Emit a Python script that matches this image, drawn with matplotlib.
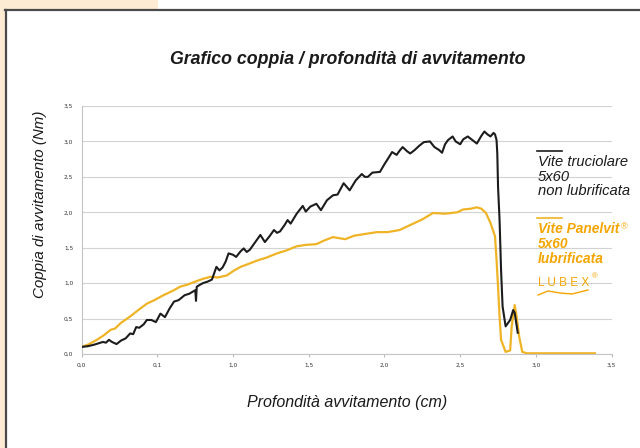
import matplotlib
matplotlib.use('Agg')
from matplotlib import pyplot as plt
from matplotlib import font_manager
from matplotlib.patches import Rectangle
from matplotlib.lines import Line2D

# dati
nero_x = [0.00, 0.04, 0.08, 0.11, 0.14, 0.16, 0.18, 0.20, 0.23, 0.26, 0.29, 0.32, 0.34, 0.36,
          0.38, 0.41, 0.43, 0.46, 0.49, 0.52, 0.55, 0.58, 0.61, 0.64, 0.68, 0.71, 0.75, 0.755,
          0.76, 0.80, 0.83, 0.86, 0.89, 0.91, 0.93, 0.95, 0.97, 1.00, 1.02, 1.05, 1.07, 1.09,
          1.11, 1.14, 1.18, 1.21, 1.24, 1.27, 1.29, 1.31, 1.34, 1.36, 1.38, 1.42, 1.46, 1.48,
          1.51, 1.55, 1.57, 1.58, 1.62, 1.66, 1.69, 1.73, 1.75, 1.77, 1.81, 1.85, 1.87, 1.89,
          1.92, 1.97, 2.00, 2.03, 2.05, 2.08, 2.10, 2.12, 2.15, 2.17, 2.20, 2.23, 2.26, 2.30,
          2.33, 2.36, 2.38, 2.40, 2.42, 2.45, 2.47, 2.50, 2.52, 2.55, 2.58, 2.61, 2.64, 2.66,
          2.68, 2.70, 2.72, 2.73, 2.74, 2.745, 2.75, 2.76, 2.77, 2.78, 2.80, 2.83, 2.85, 2.86,
          2.88]
nero_y = [0.10, 0.11, 0.13, 0.15, 0.17, 0.16, 0.20, 0.17, 0.14, 0.19, 0.22, 0.29, 0.28, 0.38,
          0.37, 0.42, 0.48, 0.48, 0.45, 0.57, 0.52, 0.64, 0.74, 0.76, 0.83, 0.85, 0.90, 0.75,
          0.95, 1.00, 1.02, 1.05, 1.23, 1.18, 1.22, 1.30, 1.42, 1.40, 1.37, 1.45, 1.49, 1.44,
          1.47, 1.56, 1.68, 1.58, 1.66, 1.75, 1.71, 1.73, 1.82, 1.89, 1.84, 1.98, 2.09, 2.01,
          2.08, 2.12, 2.06, 2.03, 2.17, 2.24, 2.25, 2.41, 2.36, 2.31, 2.45, 2.54, 2.50, 2.50,
          2.56, 2.57, 2.68, 2.78, 2.85, 2.81, 2.87, 2.92, 2.86, 2.83, 2.88, 2.94, 2.99, 3.00,
          2.92, 2.88, 2.84, 2.96, 3.02, 3.07, 3.00, 2.96, 3.03, 3.07, 3.02, 2.97, 3.08, 3.14,
          3.10, 3.07, 3.12, 3.10, 3.02, 2.83, 2.36, 1.89, 1.18, 0.67, 0.39, 0.48, 0.62, 0.58,
          0.30]

giallo_x = [0.00, 0.05, 0.10, 0.15, 0.19, 0.22, 0.26, 0.32, 0.38, 0.43, 0.48, 0.54, 0.60, 0.65,
            0.70, 0.76, 0.80, 0.85, 0.90, 0.96, 1.00, 1.05, 1.10, 1.16, 1.22, 1.29, 1.35, 1.42,
            1.48, 1.55, 1.60, 1.66, 1.74, 1.80, 1.89, 1.95, 2.02, 2.10, 2.15, 2.19, 2.25, 2.32,
            2.40, 2.48, 2.52, 2.57, 2.61, 2.64, 2.67, 2.70, 2.73, 2.74, 2.75, 2.76, 2.77, 2.80,
            2.83, 2.84, 2.86, 2.87, 2.89, 2.91, 2.94, 3.39]
giallo_y = [0.10, 0.14, 0.20, 0.27, 0.34, 0.36, 0.44, 0.53, 0.63, 0.71, 0.76, 0.83, 0.89, 0.95,
            0.98, 1.03, 1.06, 1.09, 1.08, 1.11, 1.17, 1.23, 1.27, 1.32, 1.36, 1.42, 1.46, 1.52,
            1.54, 1.55, 1.60, 1.65, 1.62, 1.67, 1.70, 1.72, 1.72, 1.75, 1.80, 1.84, 1.90, 1.99,
            1.98, 2.00, 2.04, 2.05, 2.07, 2.05, 1.99, 1.85, 1.66, 1.33, 0.95, 0.53, 0.20, 0.03,
            0.05, 0.39, 0.69, 0.57, 0.24, 0.03, 0.01, 0.01]

x_ticks = [0.0, 0.5, 1.0, 1.5, 2.0, 2.5, 3.0, 3.5]
x_labels = ['0,0', '0,1', '1,0', '1,5', '2,0', '2,5', '3,0', '3,5']
y_ticks = [0.0, 0.5, 1.0, 1.5, 2.0, 2.5, 3.0, 3.5]
y_labels = ['0,0', '0,5', '1,0', '1,5', '2,0', '2,5', '3,0', '3,5']

nomi = {f.name for f in font_manager.fontManager.ttflist}
if 'Liberation Sans Narrow' in nomi:
    stretto = ['Liberation Sans Narrow', 'DejaVu Sans']
    k = 1.0
else:
    stretto = ['Liberation Sans', 'DejaVu Sans']
    k = 0.85

NERO = '#1c1c1c'
GIALLO = '#efb426'
ARANCIO = '#f4a500'

fig = plt.figure(figsize=(6.4, 4.48), dpi=100)
W, H = 640, 448

def fx(px):
    return px / W

def fy(py):
    return 1 - py / H

# cornice e fondo pesca
fig.add_artist(Rectangle((0, fy(10)), fx(158), 10 / H, transform=fig.transFigure,
                         color='#fdebd4', lw=0, zorder=0))
fig.add_artist(Rectangle((0, 0), fx(5), 1, transform=fig.transFigure,
                         color='#fdebd4', lw=0, zorder=0))
fig.add_artist(Line2D([fx(5), 1], [fy(10.5), fy(10.5)], transform=fig.transFigure,
                      color='#4a4a4a', lw=1.6))
fig.add_artist(Line2D([fx(5.8), fx(5.8)], [0, fy(10)], transform=fig.transFigure,
                      color='#4a4a4a', lw=1.6))

ax = fig.add_axes([fx(81.7), fy(354), fx(611.6) - fx(81.7), fy(106) - fy(354)])
ax.plot(nero_x, nero_y, color=NERO, lw=1.5, zorder=3)
ax.plot(giallo_x, giallo_y, color=GIALLO, lw=1.6, zorder=2)

ax.set_xlim(0, 3.5)
ax.set_ylim(0, 3.5)
ax.set_xticks(x_ticks)
ax.set_xticklabels(x_labels)
ax.set_yticks(y_ticks)
ax.set_yticklabels(y_labels)
ax.tick_params(axis='both', labelsize=4.2, colors='#333333', length=0, pad=6)
ax.tick_params(axis='x', length=2, color='#bbbbbb', pad=4)
ax.grid(axis='y', color='#d2d2d2', lw=0.8)
ax.set_axisbelow(True)
for s in ['top', 'right']:
    ax.spines[s].set_visible(False)
for s in ['left', 'bottom']:
    ax.spines[s].set_color('#c4c4c4')
    ax.spines[s].set_linewidth(0.8)

fig.text(fx(348), fy(60), 'Grafico coppia / profondità di avvitamento', ha='center', va='center',
         fontsize=15 * k, fontweight='bold', fontstyle='italic', family=stretto, color='#1a1a1a')
fig.text(fx(347), fy(402), 'Profondità avvitamento (cm)', ha='center', va='center',
         fontsize=13.6 * k, fontstyle='italic', family=stretto, color='#1a1a1a')
fig.text(fx(40), fy(204), 'Coppia di avvitamento (Nm)', ha='center', va='center', rotation=90,
         fontsize=12.8 * k, fontstyle='italic', family=stretto, color='#1a1a1a')

# legenda a destra
fig.add_artist(Line2D([fx(537), fx(562)], [fy(151), fy(151)], transform=fig.transFigure,
                      color=NERO, lw=1.2))
fig.text(fx(538), fy(155), 'Vite truciolare\n5x60\nnon lubrificata', ha='left', va='top',
         fontsize=12.5 * k, fontstyle='italic', family=stretto, color='#1a1a1a', linespacing=1.05)
fig.add_artist(Line2D([fx(537), fx(562)], [fy(218), fy(218)], transform=fig.transFigure,
                      color=GIALLO, lw=1.2))
fig.text(fx(538), fy(222), 'Vite Panelvit', ha='left', va='top',
         fontsize=11.6 * k, fontstyle='italic', fontweight='bold', family=stretto, color=ARANCIO)
fig.text(fx(538), fy(237), '5x60', ha='left', va='top',
         fontsize=11.6 * k, fontstyle='italic', fontweight='bold', family=stretto, color=ARANCIO)
fig.text(fx(538), fy(252), 'lubrificata', ha='left', va='top',
         fontsize=11.6 * k, fontstyle='italic', fontweight='bold', family=stretto, color=ARANCIO)
fig.text(fx(621), fy(227), '®', ha='left', va='center', fontsize=6.5,
         family=['Liberation Sans', 'DejaVu Sans'], color=ARANCIO)
fig.text(fx(538), fy(283), 'L U B E X', ha='left', va='center', fontsize=8.5,
         family=['Liberation Sans', 'DejaVu Sans'], color=ARANCIO)
fig.text(fx(592), fy(277), '®', ha='left', va='center', fontsize=5.5,
         family=['Liberation Sans', 'DejaVu Sans'], color=ARANCIO)
fig.add_artist(Line2D([fx(538), fx(548), fx(560), fx(572), fx(588)],
                      [fy(295), fy(291), fy(293), fy(294), fy(290)],
                      transform=fig.transFigure, color=ARANCIO, lw=1.0))

fig.savefig('out.png', dpi=100)
